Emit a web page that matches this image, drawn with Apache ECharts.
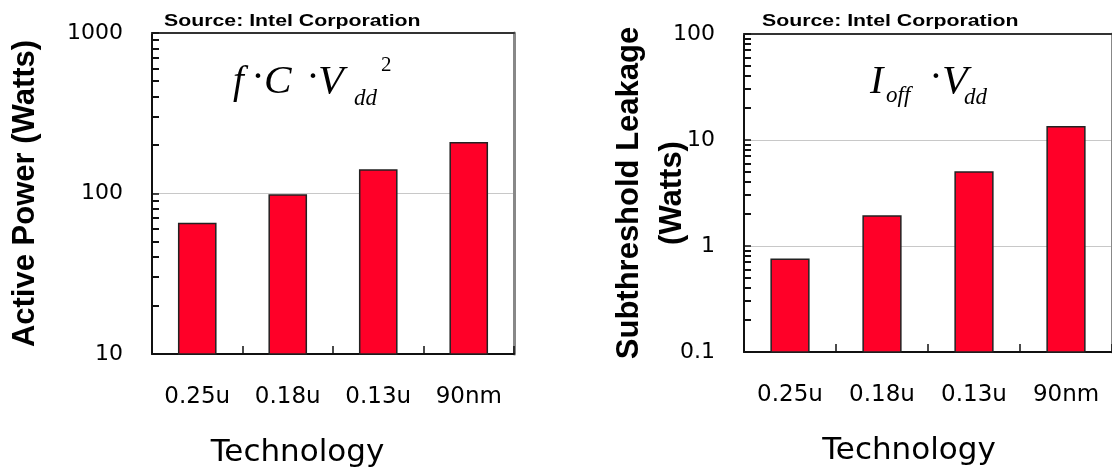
<!DOCTYPE html>
<html>
<head>
<meta charset="utf-8">
<script src="https://cdn.jsdelivr.net/npm/echarts@6/dist/echarts.min.js"></script>
<style>
html,body{margin:0;padding:0;background:#fff;}
#chart{width:1112px;height:474px;}
</style>
</head>
<body>
<div id="chart"></div>
<script>
// ---- data ----
const categories = ['0.25u', '0.18u', '0.13u', '90nm'];
const activePower = [65, 98, 140, 207];          // Watts
const leakagePower = [0.75, 1.92, 5.0, 13.3];    // Watts
const activeRange = [10, 1000];
const leakageRange = [0.1, 100];
const activeMajorTicks = [10, 100, 1000];
const leakageMajorTicks = [0.1, 1, 10, 100];
const activeMinorTicks = [20, 30, 40, 50, 60, 70, 80, 90, 200, 300, 400, 500, 600, 700, 800, 900];
const leakageMinorTicks = [0.2, 0.3, 0.4, 0.5, 0.6, 0.7, 0.8, 0.9, 2, 3, 4, 5, 6, 7, 8, 9, 20, 30, 40, 50, 60, 70, 80, 90];
const sourceText = 'Source: Intel Corporation';
const xTitle = 'Technology';
const leftYTitle = 'Active Power (Watts)';
const rightYTitle = 'Subthreshold Leakage\n(Watts)';

// ---- styles ----
const RED = '#ff0028';
const BAR_FRACTION = 0.41;

function catAxis(gridIndex, padRight) {
  return {
    type: 'category', gridIndex: gridIndex, data: categories, position: 'bottom',
    axisLine: { lineStyle: { color: '#111', width: 2 } },
    axisTick: { show: true, inside: true, length: 8, lineStyle: { color: '#111', width: 1.5 } },
    axisLabel: { fontFamily: 'DejaVu Sans', fontSize: 23, color: '#000', margin: 32 },
    name: xTitle, nameLocation: 'middle', nameGap: 83, nameMoveOverlap: false,
    nameTextStyle: { fontFamily: 'DejaVu Sans', fontSize: 31, color: '#000', padding: [0, padRight, 0, 0] }
  };
}
function topAxis(gridIndex) {
  return {
    type: 'category', gridIndex: gridIndex, data: categories, position: 'top',
    axisLine: { lineStyle: { color: '#333', width: 2 } },
    axisTick: { show: false }, axisLabel: { show: false }, splitLine: { show: false }
  };
}
function logAxis(gridIndex, range, majors, name, nameGap, lineHeight) {
  return {
    type: 'log', logBase: 10, gridIndex: gridIndex, min: range[0], max: range[1], position: 'left',
    axisLine: { show: true, lineStyle: { color: '#111', width: 2 } },
    axisTick: { show: true, inside: true, length: 7, customValues: majors, lineStyle: { color: '#111', width: 1.5 } },
    axisLabel: { margin: 29, fontFamily: 'DejaVu Sans', fontSize: 22, color: '#000', customValues: majors,
                 formatter: function (v) { return String(v); } },
    splitLine: { show: true, lineStyle: { color: '#c8c8c8', width: 1.2 } },
    minorTick: { show: false },
    name: name, nameLocation: 'middle', nameGap: nameGap, nameMoveOverlap: false,
    nameTextStyle: { fontFamily: 'Liberation Sans', fontWeight: 'bold', fontSize: 31, color: '#000', lineHeight: lineHeight }
  };
}
function rightAxis(gridIndex, range) {
  return {
    type: 'log', logBase: 10, gridIndex: gridIndex, min: range[0], max: range[1], position: 'right',
    axisLine: { show: true, lineStyle: { color: '#888', width: 3 } },
    axisTick: { show: false }, axisLabel: { show: false }, splitLine: { show: false }
  };
}
// bars drawn from the bottom of the log axis up to the value
function barSeries(xi, yi, values) {
  return {
    type: 'custom', xAxisIndex: xi, yAxisIndex: yi, silent: true, z: 3,
    data: values.map(function (v, i) { return [i, v]; }),
    encode: { x: 0, y: 1 },
    renderItem: function (params, api) {
      const cs = params.coordSys;
      const top = api.coord([api.value(0), api.value(1)]);
      const band = cs.width / categories.length;
      const w = band * BAR_FRACTION;
      const base = cs.y + cs.height;
      return {
        type: 'rect',
        shape: { x: top[0] - w / 2, y: top[1], width: w, height: base - top[1] },
        style: { fill: RED, stroke: '#222', lineWidth: 1.5 }
      };
    }
  };
}
// minor ticks on the log axis, placed by the axis scale
function minorTickSeries(xi, yi, values) {
  return {
    type: 'custom', xAxisIndex: xi, yAxisIndex: yi, silent: true, z: 6,
    data: values.map(function (v, i) { return [i % categories.length, v]; }),
    encode: { x: 0, y: 1 },
    renderItem: function (params, api) {
      const cs = params.coordSys;
      const p = api.coord([api.value(0), api.value(1)]);
      const y = Math.round(p[1]);
      return {
        type: 'rect',
        shape: { x: cs.x, y: y - 1, width: 7, height: 2 },
        style: { fill: '#111' }
      };
    }
  };
}
function txt(x, y, text, size, opts) {
  opts = opts || {};
  return {
    type: 'text', x: x, y: y, scaleX: opts.scaleX || 1, silent: true, z: 10,
    style: {
      text: text, fill: '#000', fontSize: size,
      fontFamily: opts.family || 'Liberation Serif',
      fontStyle: opts.style || 'normal', fontWeight: opts.weight || 'normal',
      align: opts.align || 'left', verticalAlign: 'middle'
    }
  };
}
function bl(b, s) { return b - 0.34 * s; }

const chart = echarts.init(document.getElementById('chart'), null, { renderer: 'canvas' });
chart.setOption({
  backgroundColor: '#fff',
  animation: false,
  grid: [
    { left: 152, top: 33, width: 362, height: 321 },
    { left: 744, top: 34, width: 376, height: 318 }
  ],
  xAxis: [catAxis(0, 71), topAxis(0), catAxis(1, 38), topAxis(1)],
  yAxis: [
    logAxis(0, activeRange, activeMajorTicks, leftYTitle, 111, 31),
    rightAxis(0, activeRange),
    logAxis(1, leakageRange, leakageMajorTicks, rightYTitle, 50, 43),
    rightAxis(1, leakageRange)
  ],
  series: [
    barSeries(0, 0, activePower),
    minorTickSeries(0, 0, activeMinorTicks),
    barSeries(2, 2, leakagePower),
    minorTickSeries(2, 2, leakageMinorTicks)
  ],
  graphic: [
    txt(164, bl(27, 16), sourceText, 16, { family: 'Liberation Sans', weight: 'bold', scaleX: 1.33 }),
    txt(762, bl(27, 16), sourceText, 16, { family: 'Liberation Sans', weight: 'bold', scaleX: 1.33 }),
    // f · C · Vdd^2
    txt(233, bl(96, 39), 'f', 39, { style: 'italic' }),
    txt(258, bl(92, 39), '·', 39, { align: 'center' }),
    txt(264, bl(96, 39), 'C', 39, { style: 'italic', scaleX: 1.06 }),
    txt(313, bl(92, 39), '·', 39, { align: 'center' }),
    txt(318, bl(96, 39), 'V', 39, { style: 'italic', scaleX: 1.08 }),
    txt(354, bl(107, 23), 'dd', 23, { style: 'italic' }),
    txt(381, bl(73, 21), '2', 21, {}),
    // Ioff · Vdd
    txt(870, bl(96, 40), 'I', 40, { style: 'italic' }),
    txt(886, bl(104, 23), 'off', 23, { style: 'italic' }),
    txt(936, bl(92, 40), '·', 40, { align: 'center' }),
    txt(942, bl(96, 40), 'V', 40, { style: 'italic', scaleX: 1.05 }),
    txt(964, bl(106, 23), 'dd', 23, { style: 'italic' })
  ]
});
</script>
</body>
</html>
